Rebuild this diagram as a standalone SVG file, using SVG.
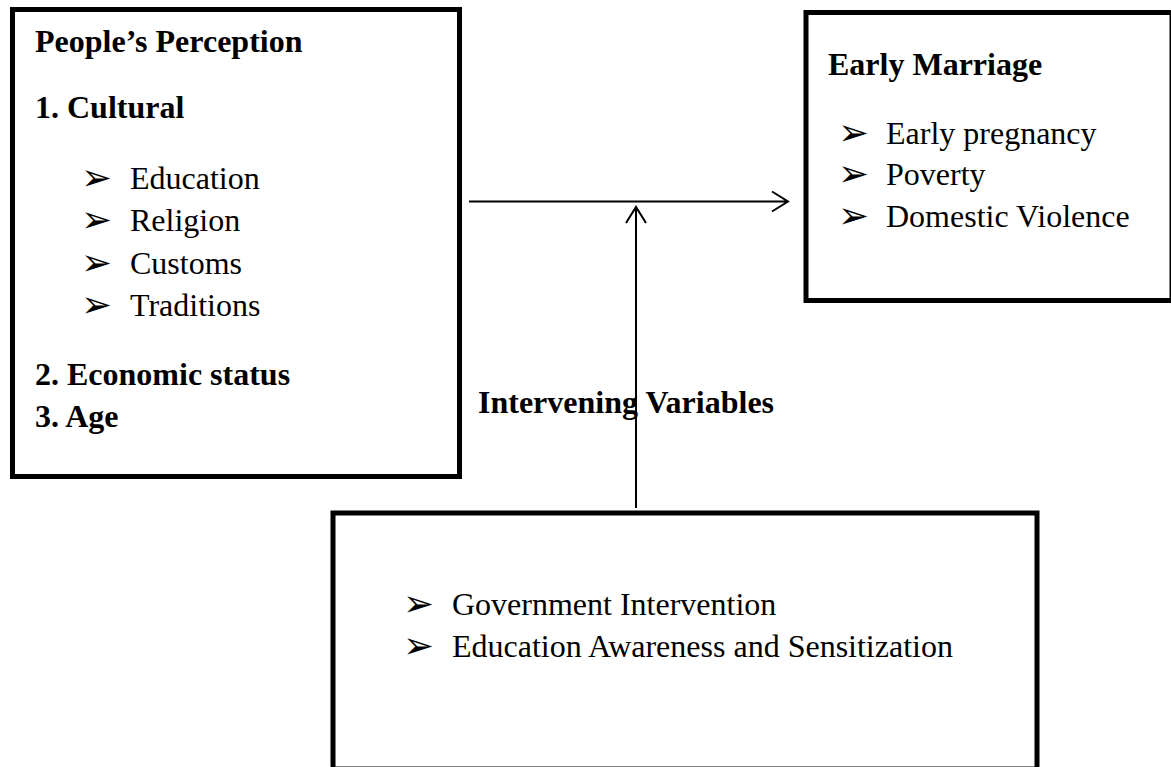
<svg xmlns="http://www.w3.org/2000/svg" width="1171" height="767" viewBox="0 0 1171 767">
<style>
.box{fill:#fff;stroke:#000;stroke-width:5}
.h{font-family:"Liberation Serif","Times New Roman",serif;font-weight:bold;font-size:32px;fill:#000}
.t{font-family:"Liberation Serif","Times New Roman",serif;font-size:32px;fill:#000}
.b{font-family:"DejaVu Sans",sans-serif;font-size:37px;fill:#000}
.ln{stroke:#000;stroke-width:2;fill:none}
</style>
<rect width="1171" height="767" fill="#fff"/>
<g id="perception">
<rect class="box" x="12.5" y="9.5" width="447" height="467"/>
<text class="h" x="35" y="52">People’s Perception</text>
<text class="h" x="35" y="118">1. Cultural</text>
<text class="b" x="81" y="190">➢</text><text class="t" x="130" y="189">Education</text>
<text class="b" x="81" y="232">➢</text><text class="t" x="130" y="231">Religion</text>
<text class="b" x="81" y="275">➢</text><text class="t" x="130" y="274">Customs</text>
<text class="b" x="81" y="317">➢</text><text class="t" x="130" y="316">Traditions</text>
<text class="h" x="35" y="385">2. Economic status</text>
<text class="h" x="35" y="427">3. Age</text>
</g>
<g id="early-marriage">
<rect class="box" x="806" y="12.5" width="366" height="288"/>
<text class="h" x="828" y="75">Early Marriage</text>
<text class="b" x="838" y="145">➢</text><text class="t" x="886" y="144">Early pregnancy</text>
<text class="b" x="838" y="186">➢</text><text class="t" x="886" y="185">Poverty</text>
<text class="b" x="838" y="228">➢</text><text class="t" x="886" y="227">Domestic Violence</text>
</g>
<g id="intervening-label">
<text class="h" x="478" y="413">Intervening Variables</text>
</g>
<g id="intervening">
<rect class="box" x="333" y="513" width="704" height="256"/>
<text class="b" x="403" y="616">➢</text><text class="t" x="452" y="615">Government Intervention</text>
<text class="b" x="403" y="658">➢</text><text class="t" x="452" y="657">Education Awareness and Sensitization</text>
</g>
<g id="connectors">
<path class="ln" d="M469 201.5H788M772 191.5L788 201.5L772 211.5"/>
<path class="ln" d="M636 508V207M626 223L636 207L646 223"/>
</g>
</svg>
